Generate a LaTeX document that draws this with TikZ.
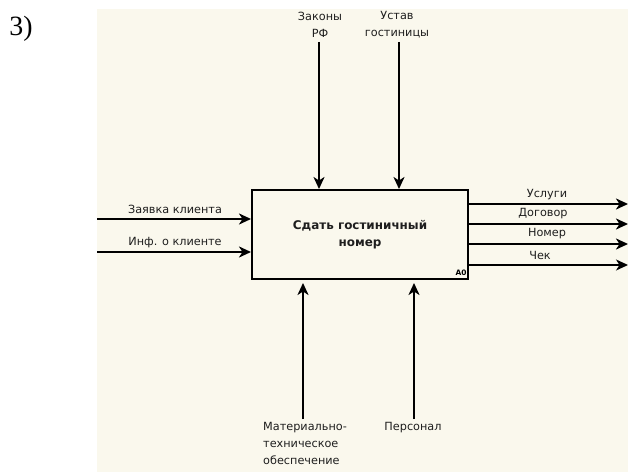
\documentclass[tikz,border=0pt]{standalone}
\usepackage{fontspec}
\newfontfamily\lblfont{DejaVu Sans}
\newfontfamily\tnrfont{Liberation Serif}
\usetikzlibrary{arrows.meta}
\definecolor{bgcream}{RGB}{250,248,237}
\definecolor{txtdark}{RGB}{30,30,30}
\tikzset{
  lbl/.style={font=\lblfont\fontsize{11.3}{17}\selectfont, text=txtdark, inner sep=0pt, align=center},
  arr/.style={line width=2bp, -{Stealth[length=12bp,width=11bp,inset=3.5bp]}},
  funcbox/.style={draw, line width=2bp, minimum width=216bp, minimum height=89bp, inner sep=0pt, align=center,
     font=\lblfont\bfseries\fontsize{12}{17}\selectfont, text=txtdark}
}
\begin{document}
\begin{tikzpicture}[x=1bp,y=-1bp]
\useasboundingbox (0,0) rectangle (628,472);
\fill[bgcream] (97,9) rectangle (628,472);
\node[font=\tnrfont\fontsize{28}{30}\selectfont, inner sep=0pt] (num) at (21,29) {3)};
% function box
\node[funcbox] (box) at (360,234.5) {Сдать гостиничный\\номер};
\node[font=\lblfont\bfseries\fontsize{7.5}{8}\selectfont, inner sep=0pt] (a0) at (461,273) {A0};
% inputs
\coordinate (in1) at (97,219);
\coordinate (in2) at (97,252);
\draw[arr] (in1) -- (in1 -| box.west);
\draw[arr] (in2) -- (in2 -| box.west);
\node[lbl] (lin1) at (175,209) {Заявка клиента};
\node[lbl] (lin2) at (175,243) {Инф. о клиенте};
% controls
\coordinate (c1) at (319,42);
\coordinate (c2) at (399,42);
\draw[arr] (c1) -- (c1 |- box.north);
\draw[arr] (c2) -- (c2 |- box.north);
\node[lbl] (lc1) at (320,24.5) {Законы\\РФ};
\node[lbl] (lc2) at (397,24.5) {Устав\\гостиницы};
% outputs
\coordinate (o1) at (628,204);
\coordinate (o2) at (628,224);
\coordinate (o3) at (628,244);
\coordinate (o4) at (628,265);
\draw[arr] (o1 -| box.east) -- (o1);
\draw[arr] (o2 -| box.east) -- (o2);
\draw[arr] (o3 -| box.east) -- (o3);
\draw[arr, line width=1.5bp] (o4 -| box.east) -- (o4);
\node[lbl] (lo1) at (547,195) {Услуги};
\node[lbl] (lo2) at (543,214) {Договор};
\node[lbl] (lo3) at (547,234) {Номер};
\node[lbl] (lo4) at (540,255) {Чек};
% mechanisms
\coordinate (m1) at (303,419);
\coordinate (m2) at (414,419);
\draw[arr] (m1) -- ([yshift=-3bp]m1 |- box.south);
\draw[arr] (m2) -- ([yshift=-3bp]m2 |- box.south);
\node[lbl, align=left, anchor=north west] (lm1) at (263,422) {Материально-\\техническое\\обеспечение};
\node[lbl] (lm2) at (413,428) {Персонал};
\end{tikzpicture}
\end{document}
